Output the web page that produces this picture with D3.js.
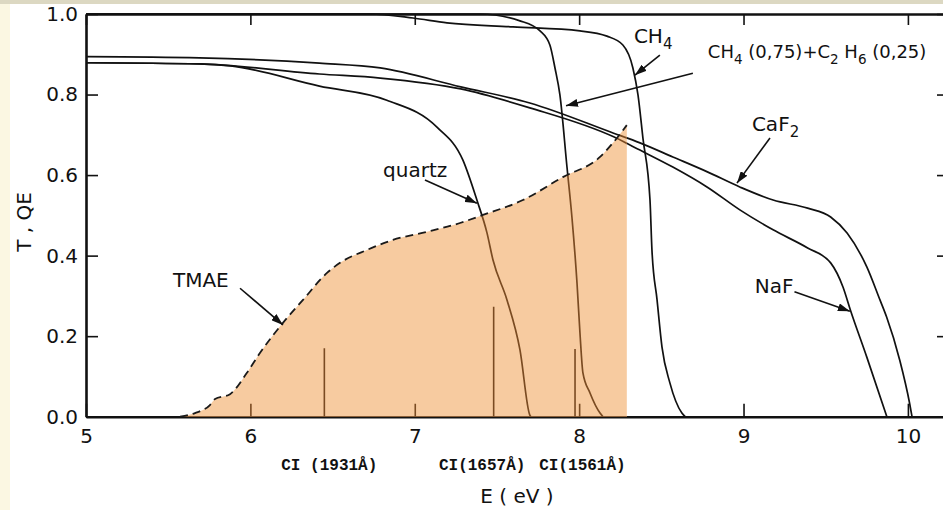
<!DOCTYPE html>
<html>
<head>
<meta charset="utf-8">
<script src="https://cdn.jsdelivr.net/npm/d3@7"></script>
<style>
  body { margin: 0; background: #fbf7e2; }
  svg { display: block; }
  text { font-family: "DejaVu Sans", sans-serif; }
</style>
</head>
<body>
<svg id="chart" width="943" height="510"></svg>
<script>
// transmission / quantum efficiency vs photon energy
const xTicks = [5, 6, 7, 8, 9, 10];
const yTicks = [0.0, 0.2, 0.4, 0.6, 0.8, 1.0];

// [E (eV), T]
const caf2 = [[5.0,0.894],[5.69,0.891],[6.42,0.878],[6.79,0.866],[7.28,0.819],[7.70,0.779],[8.21,0.704],
  [8.37,0.680],[8.57,0.645],[8.78,0.608],[8.98,0.570],[9.18,0.538],[9.39,0.518],[9.53,0.496],
  [9.63,0.456],[9.75,0.372],[9.83,0.290],[9.87,0.248],[9.95,0.141],[10.01,0.034],[10.025,0.0]];
const naf = [[5.0,0.879],[5.69,0.876],[6.42,0.851],[6.79,0.841],[7.28,0.814],[7.70,0.767],[8.21,0.695],
  [8.37,0.662],[8.57,0.620],[8.78,0.570],[8.98,0.513],[9.18,0.464],[9.39,0.419],[9.53,0.382],
  [9.605,0.322],[9.65,0.265],[9.75,0.148],[9.872,0.0]];
const quartz = [[5.0,0.879],[5.69,0.876],[5.88,0.871],[6.42,0.821],[6.83,0.786],[7.135,0.719],
  [7.293,0.637],[7.378,0.538],[7.439,0.457],[7.476,0.389],[7.561,0.290],[7.640,0.166],[7.70,0.004],[7.707,0.0]];
const ch4Mix = [[5.0,1.0],[7.397,1.0],[7.64,0.983],[7.762,0.958],[7.822,0.923],[7.853,0.866],[7.883,0.799],
  [7.926,0.620],[7.956,0.496],[7.987,0.332],[8.005,0.208],[8.023,0.109],[8.066,0.059],[8.127,0.009],[8.145,0.0]];
const ch4 = [[5.0,1.0],[6.727,1.0],[6.989,0.990],[7.196,0.978],[7.597,0.968],[8.005,0.958],[8.169,0.945],
  [8.266,0.923],[8.327,0.866],[8.358,0.799],[8.388,0.692],[8.431,0.538],[8.443,0.413],[8.474,0.290],
  [8.504,0.173],[8.552,0.084],[8.625,0.009],[8.645,0.0]];
const tmae = [[5.572,0.0],[5.663,0.009],[5.754,0.029],[5.785,0.044],[5.876,0.056],[5.979,0.109],
  [6.058,0.158],[6.198,0.233],[6.320,0.290],[6.466,0.357],[6.545,0.382],[6.709,0.414],[6.867,0.439],
  [7.074,0.459],[7.275,0.481],[7.415,0.501],[7.658,0.538],[7.901,0.595],[8.127,0.645],[8.206,0.680],[8.29,0.724]];

// carbon emission lines
const ciE = [6.45, 7.48, 7.975];
const ciHeight = [0.17, 0.273, 0.168];
const ciLabels = ["CI (1931Å)", "CI(1657Å)", "CI(1561Å)"];
const ciLabelE = [6.48, 7.41, 8.02];

// curve labels: text parts ([string, subscript?]), font size, anchor, arrow from -> to
const notes = [
  {parts: [["CH",0],["4",1]], size: 20, at: [8.333, 0.928], from: [8.491, 0.898], to: [8.339, 0.848]},
  {parts: [["CH",0],["4",1],[" (0,75)+C",0],["2",1],[" H",0],["6",1],[" (0,25)",0]], size: 18, at: [8.783, 0.891], from: [8.692, 0.853], to: [7.92, 0.772]},
  {parts: [["CaF",0],["2",1]], size: 20, at: [9.051, 0.709], from: [9.161, 0.692], to: [8.96, 0.580]},
  {parts: [["NaF",0]], size: 20, at: [9.069, 0.307], from: [9.31, 0.31], to: [9.647, 0.262]},
  {parts: [["quartz",0]], size: 20, at: [6.807, 0.595], from: [7.062, 0.588], to: [7.378, 0.530]},
  {parts: [["TMAE",0]], size: 20, at: [5.529, 0.322], from: [5.937, 0.319], to: [6.198, 0.228]}
];

const svg = d3.select("#chart");

// page background + white sheet
svg.append("rect").attr("width", 943).attr("height", 510).attr("fill", "#fbf7e2");
svg.append("rect").attr("width", 943).attr("height", 4).attr("fill", "#dcd8c2");
svg.append("rect").attr("x", 10).attr("y", 4).attr("width", 933).attr("height", 506).attr("fill", "#ffffff");

const x = d3.scaleLinear().domain([5, 10.25]).range([86, 949]);
const y = d3.scaleLinear().domain([0, 1]).range([416.7, 14]);

const line = d3.line().x(d => x(d[0])).y(d => y(d[1])).curve(d3.curveMonotoneX);
const area = d3.area().x(d => x(d[0])).y0(y(0)).y1(d => y(d[1])).curve(d3.curveMonotoneX);

function drawInk(g, color, withText) {
  const bottom = d3.axisBottom(x).tickValues(xTicks).tickSizeInner(-13).tickSizeOuter(0)
    .tickPadding(12).tickFormat(withText ? d3.format("d") : "");
  const left = d3.axisLeft(y).tickValues(yTicks).tickSizeInner(-12).tickSizeOuter(0)
    .tickPadding(8).tickFormat(withText ? d3.format(".1f") : "");
  const top = d3.axisTop(x).tickValues(xTicks).tickSizeInner(-11).tickSizeOuter(0).tickFormat("");
  const right = d3.axisRight(y).tickValues(yTicks).tickSizeInner(-12).tickSizeOuter(0).tickFormat("");

  const axes = [
    g.append("g").attr("transform", `translate(0,${y(0)})`).call(bottom),
    g.append("g").attr("transform", `translate(${x(5)},0)`).call(left),
    g.append("g").attr("transform", `translate(0,${y(1)})`).call(top),
    g.append("g").attr("transform", `translate(${x(10.25)},0)`).call(right)
  ];
  axes.forEach(a => {
    a.select(".domain").attr("stroke", color).attr("stroke-width", 2.6);
    a.selectAll(".tick line").attr("stroke", color).attr("stroke-width", 1.6);
    a.selectAll("text").attr("fill", color).attr("font-size", 20)
      .attr("font-family", "DejaVu Sans, sans-serif");
  });

  [caf2, naf, quartz, ch4Mix, ch4].forEach(s => {
    g.append("path").datum(s).attr("d", line)
      .attr("fill", "none").attr("stroke", color).attr("stroke-width", 1.7);
  });

  g.selectAll(".ci").data(ciE).enter().append("line")
    .attr("x1", d => x(d)).attr("x2", d => x(d))
    .attr("y1", y(0)).attr("y2", (d, i) => y(ciHeight[i]))
    .attr("stroke", color).attr("stroke-width", 1.6);
}

// black ink everywhere
drawInk(svg.append("g"), "#111", true);

// TMAE quantum efficiency fill
svg.append("path").datum(tmae).attr("d", area).attr("fill", "#f7cba0");

// ink seen through the fill turns brown
svg.append("clipPath").attr("id", "fillClip")
  .append("path").datum(tmae).attr("d", area);
drawInk(svg.append("g").attr("clip-path", "url(#fillClip)"), "#7a4b22", false);

// TMAE dashed edge
svg.append("path").datum(tmae).attr("d", line)
  .attr("fill", "none").attr("stroke", "#1a1a1a").attr("stroke-width", 1.8)
  .attr("stroke-dasharray", "8,5");

// arrows
svg.append("defs").append("marker")
  .attr("id", "head").attr("viewBox", "0 0 12 8").attr("refX", 12).attr("refY", 4)
  .attr("markerWidth", 12).attr("markerHeight", 8).attr("markerUnits", "userSpaceOnUse")
  .attr("orient", "auto")
  .append("path").attr("d", "M0,0 L12,4 L0,8 Z").attr("fill", "#111");

notes.forEach(n => {
  svg.append("line")
    .attr("x1", x(n.from[0])).attr("y1", y(n.from[1]))
    .attr("x2", x(n.to[0])).attr("y2", y(n.to[1]))
    .attr("stroke", "#111").attr("stroke-width", 1.6).attr("marker-end", "url(#head)");
  const t = svg.append("text").attr("x", x(n.at[0])).attr("y", y(n.at[1]))
    .attr("font-size", n.size).attr("fill", "#111");
  let sub = false;
  n.parts.forEach(p => {
    const dy = p[1] && !sub ? 6 : (!p[1] && sub ? -6 : 0);
    t.append("tspan").attr("dy", dy).attr("font-size", p[1] ? n.size * 0.75 : n.size).text(p[0]);
    sub = !!p[1];
  });
});

// line identifications under the axis
svg.selectAll(".cilab").data(ciLabels).enter().append("text")
  .attr("x", (d, i) => x(ciLabelE[i])).attr("y", 470)
  .attr("text-anchor", "middle").attr("font-size", 16).attr("font-weight", "bold")
  .attr("fill", "#111")
  .style("font-family", "Liberation Mono, monospace")
  .text(d => d);

// axis titles
svg.append("text").attr("x", 517).attr("y", 503).attr("text-anchor", "middle")
  .attr("font-size", 20).attr("fill", "#111").text("E ( eV )");
svg.append("text").attr("transform", "translate(31,222) rotate(-90)").attr("text-anchor", "middle")
  .attr("font-size", 20).attr("fill", "#111").text("T , QE");
</script>
</body>
</html>
